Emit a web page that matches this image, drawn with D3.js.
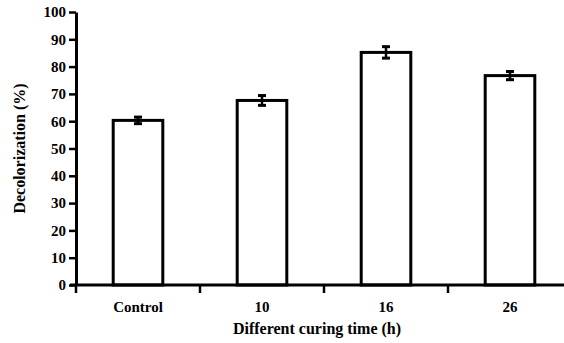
<!DOCTYPE html>
<html>
<head>
<meta charset="utf-8">
<script src="https://cdn.jsdelivr.net/npm/d3@7"></script>
<style>
  body { margin: 0; background: #fff; }
</style>
</head>
<body>
<svg id="viz"></svg>
<script>
const WIDTH = 564
const HEIGHT = 343
const FONT = 'Liberation Serif'

const categories = ['Control', '10', '16', '26']
const values = [60.3, 67.6, 85.2, 76.7]
const errors = [1.2, 1.8, 2.1, 1.5]
const yTicks = [0, 10, 20, 30, 40, 50, 60, 70, 80, 90, 100]

const margin = { left: 76, top: 12, right: -8, bottom: 58 }

const svg = d3.select('#viz')
    .attr('width', WIDTH)
    .attr('height', HEIGHT)

const x = d3.scaleBand()
    .domain(categories)
    .range([margin.left, WIDTH - margin.right])
    .paddingInner(0.6)
    .paddingOuter(0.3)

const y = d3.scaleLinear()
    .domain([0, 100])
    .range([HEIGHT - margin.bottom, margin.top])

// bars
svg.selectAll('rect.bar')
    .data(values)
    .enter().append('rect')
        .attr('class', 'bar')
        .attr('x', (d, i) => x(categories[i]))
        .attr('y', d => y(d))
        .attr('width', x.bandwidth())
        .attr('height', d => y(0) - y(d))
        .style('fill', '#fff')
        .style('stroke', '#000')
        .style('stroke-width', 3)

// error bars
const capW = 8
const errG = svg.selectAll('g.err')
    .data(values)
    .enter().append('g')
        .attr('class', 'err')
        .attr('transform', (d, i) => `translate(${x(categories[i]) + x.bandwidth() / 2},0)`)

errG.append('line')
    .attr('y1', (d, i) => y(d + errors[i]))
    .attr('y2', (d, i) => y(d - errors[i]))
    .style('stroke', '#000').style('stroke-width', 2.5)
errG.append('line')
    .attr('x1', -capW / 2).attr('x2', capW / 2)
    .attr('y1', (d, i) => y(d + errors[i])).attr('y2', (d, i) => y(d + errors[i]))
    .style('stroke', '#000').style('stroke-width', 3)
errG.append('line')
    .attr('x1', -capW / 2).attr('x2', capW / 2)
    .attr('y1', (d, i) => y(d - errors[i])).attr('y2', (d, i) => y(d - errors[i]))
    .style('stroke', '#000').style('stroke-width', 3)

// y axis
const yAxis = svg.append('g')
    .attr('transform', `translate(${margin.left},0)`)
    .call(d3.axisLeft(y).tickValues(yTicks).tickSize(7).tickSizeOuter(0).tickPadding(3))
yAxis.attr('font-family', FONT).attr('font-size', 15).attr('font-weight', 'bold')
yAxis.select('.domain').style('stroke-width', 3)
yAxis.selectAll('.tick line').style('stroke-width', 2.5)
yAxis.selectAll('.tick text').style('fill', '#000')

// x axis with ticks at band boundaries
const boundaries = categories.map(c => x(c) - x.step() * x.paddingInner() / 2)
    .concat([x(categories[categories.length - 1]) + x.bandwidth() + x.step() * x.paddingInner() / 2])

svg.append('line')
    .attr('x1', margin.left - 6).attr('x2', WIDTH)
    .attr('y1', y(0)).attr('y2', y(0))
    .style('stroke', '#000').style('stroke-width', 3)

svg.selectAll('line.xtick')
    .data(boundaries)
    .enter().append('line')
        .attr('class', 'xtick')
        .attr('x1', d => d).attr('x2', d => d)
        .attr('y1', y(0)).attr('y2', y(0) + 8)
        .style('stroke', '#000').style('stroke-width', 2.5)

svg.selectAll('text.xlabel')
    .data(categories)
    .enter().append('text')
        .attr('class', 'xlabel')
        .attr('x', d => x(d) + x.bandwidth() / 2)
        .attr('y', y(0) + 27)
        .attr('text-anchor', 'middle')
        .attr('font-family', FONT)
        .attr('font-weight', 'bold')
        .attr('font-size', 15)
        .text(d => d)

// axis titles
svg.append('text')
    .attr('x', 317)
    .attr('y', 334)
    .attr('text-anchor', 'middle')
    .attr('font-family', FONT)
    .attr('font-weight', 'bold')
    .attr('font-size', 16)
    .text('Different curing time (h)')

svg.append('text')
    .attr('transform', `translate(25,${(y(0) + y(100)) / 2}) rotate(-90)`)
    .attr('text-anchor', 'middle')
    .attr('font-family', FONT)
    .attr('font-weight', 'bold')
    .attr('font-size', 16)
    .text('Decolorization (%)')
</script>
</body>
</html>
